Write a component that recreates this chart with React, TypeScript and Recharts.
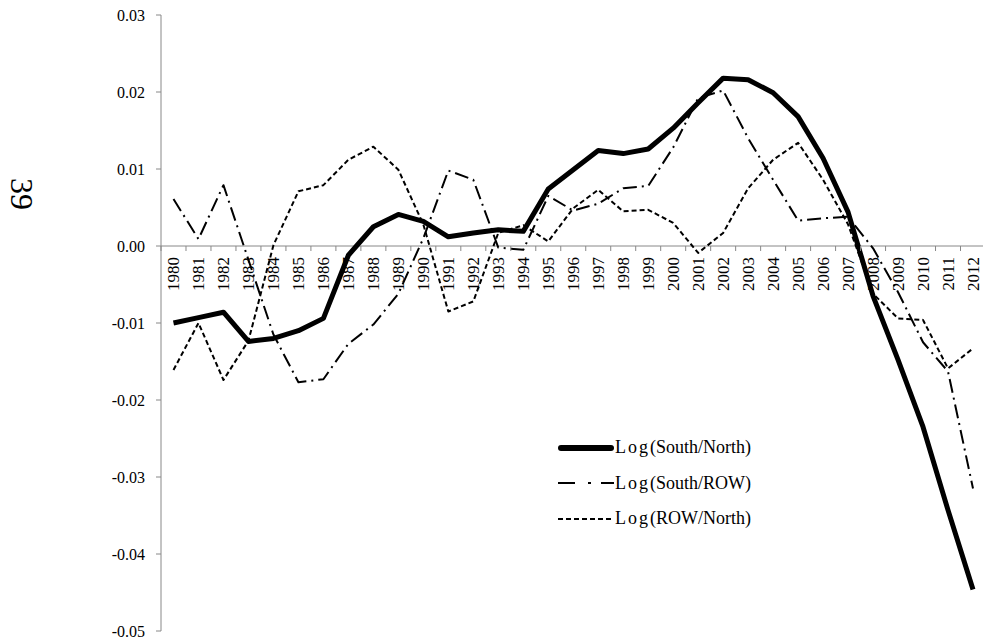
import { Line, LineChart, ReferenceLine, XAxis, YAxis } from "recharts";

const years = [
	"1980", "1981", "1982", "1983", "1984", "1985", "1986", "1987", "1988", "1989", "1990",
	"1991", "1992", "1993", "1994", "1995", "1996", "1997", "1998", "1999", "2000",
	"2001", "2002", "2003", "2004", "2005", "2006", "2007", "2008", "2009", "2010",
	"2011", "2012",
];

const southNorth = [
	-0.01, -0.0093, -0.0086, -0.0124, -0.012, -0.011, -0.0094, -0.0012, 0.0025, 0.0041, 0.0032,
	0.0012, 0.0017, 0.0021, 0.0019, 0.0074, 0.0099, 0.0124, 0.012, 0.0126, 0.0153,
	0.0186, 0.0218, 0.0216, 0.0199, 0.0168, 0.0114, 0.0044, -0.0065, -0.0148, -0.0235,
	-0.0343, -0.0446,
];

const southRow = [
	0.0061, 0.0009, 0.0079, -0.0018, -0.0115, -0.0177, -0.0173, -0.0127, -0.0102, -0.0062, 0.001,
	0.0098, 0.0086, -0.0002, -0.0005, 0.0065, 0.0046, 0.0055, 0.0075, 0.0078, 0.0128,
	0.0192, 0.0202, 0.014, 0.0086, 0.0033, 0.0036, 0.0038, -0.0003, -0.006, -0.0125,
	-0.0163, -0.0315,
];

const rowNorth = [
	-0.0161, -0.01, -0.0174, -0.0123, 0.0001, 0.0071, 0.0079, 0.0112, 0.0129, 0.0099, 0.0028,
	-0.0085, -0.0072, 0.0017, 0.0027, 0.0006, 0.0049, 0.0073, 0.0045, 0.0047, 0.003,
	-0.0009, 0.0017, 0.0075, 0.0112, 0.0134, 0.0086, 0.0028, -0.0062, -0.0094, -0.0096,
	-0.0159, -0.0133,
];

const yTicks = [-0.05, -0.04, -0.03, -0.02, -0.01, 0, 0.01, 0.02, 0.03];

const data = years.map((year, i) => ({
	year,
	sn: southNorth[i],
	sr: southRow[i],
	rn: rowNorth[i],
}));

const SERIES = [
	{ key: "sn", name: "Log(South/North)", width: 5, dash: undefined, legendDash: undefined },
	{ key: "sr", name: "Log(South/ROW)", width: 2, dash: "14 5 2 5", legendDash: "17 13 3 10" },
	{ key: "rn", name: "Log(ROW/North)", width: 2, dash: "5 3", legendDash: "5 3" },
];

const CHART_W = 1000;
const CHART_H = 639;
const TOP = 15;
const BOTTOM = 7;
const X_H = 1;
const LEFT = 161;
const RIGHT = 14.5;
const PLOT_H = CHART_H - TOP - BOTTOM - X_H;
const PLOT_W = CHART_W - LEFT - RIGHT;
const BAND = PLOT_W / years.length;
const Y_MIN = -0.05;
const Y_MAX = 0.03;
const ZERO_Y = TOP + (PLOT_H * Y_MAX) / (Y_MAX - Y_MIN);
const GRAY = "#888888";
const FONT = "'Liberation Serif', 'Times New Roman', serif";

function YearTick(props: any) {
	const { x, payload } = props;
	const ty = ZERO_Y + 11;
	const last = payload.value === years[years.length - 1];
	return (
		<g>
			<line x1={x - BAND / 2} x2={x - BAND / 2} y1={ZERO_Y} y2={ZERO_Y + 5} stroke={GRAY} />
			{last && <line x1={x + BAND / 2} x2={x + BAND / 2} y1={ZERO_Y} y2={ZERO_Y + 5} stroke={GRAY} />}
			<text
				x={x}
				y={ty}
				dy="0.33em"
				textAnchor="end"
				transform={`rotate(-90, ${x}, ${ty})`}
				style={{ fontFamily: FONT }}
				fontSize={17}
				fill="#000"
			>
				{payload.value}
			</text>
		</g>
	);
}

function ValueTick(props: any) {
	const { x, y, payload } = props;
	return (
		<text x={x} y={y} dy="0.35em" textAnchor="end" style={{ fontFamily: FONT }} fontSize={16} fill="#000">
			{Number(payload.value).toFixed(2)}
		</text>
	);
}

function LegendBox() {
	return (
		<div
			style={{
				position: "absolute",
				left: 558,
				top: 430,
				fontFamily: FONT,
				fontSize: 18,
				color: "#000",
			}}
		>
			{SERIES.map((s) => (
				<div key={s.key} style={{ display: "flex", alignItems: "center", height: 35.5 }}>
					<svg width={56} height={10} style={{ marginRight: 1 }}>
						<line
							x1={s.width > 3 ? 3 : 0}
							x2={s.width > 3 ? 53 : 56}
							y1={5}
							y2={5}
							stroke="#000"
							strokeWidth={s.width > 3 ? 6 : 2}
							strokeLinecap={s.width > 3 ? "round" : "butt"}
							strokeDasharray={s.legendDash}
						/>
					</svg>
					<span style={{ whiteSpace: "nowrap" }}>
						<span style={{ letterSpacing: 2 }}>Log</span>
						{s.name.slice(3)}
					</span>
				</div>
			))}
		</div>
	);
}

export default function App() {
	return (
		<div
			style={{
				position: "absolute",
				left: 0,
				top: 0,
				width: 983,
				height: 639,
				overflow: "hidden",
				background: "#fff",
			}}
		>
			<div
				style={{
					position: "absolute",
					left: 0,
					top: 174,
					width: 44,
					height: 40,
					lineHeight: "40px",
					textAlign: "center",
					fontFamily: FONT,
					fontSize: 32,
					transform: "rotate(90deg)",
				}}
			>
				39
			</div>
			<LineChart
				width={CHART_W}
				height={CHART_H}
				data={data}
				margin={{ top: TOP, right: RIGHT, bottom: BOTTOM, left: 0 }}
			>
				<XAxis
					dataKey="year"
					height={X_H}
					axisLine={false}
					tickLine={false}
					interval={0}
					padding={{ left: BAND / 2, right: BAND / 2 }}
					tick={(p: any) => <YearTick {...p} />}
				/>
				<YAxis
					type="number"
					domain={[Y_MIN, Y_MAX]}
					ticks={yTicks}
					interval={0}
					width={LEFT}
					tickSize={5}
					tickMargin={11}
					axisLine={{ stroke: GRAY }}
					tickLine={{ stroke: GRAY }}
					tick={(p: any) => <ValueTick {...p} />}
				/>
				<ReferenceLine y={0} stroke={GRAY} strokeWidth={1} />
				{SERIES.map((s) => (
					<Line
						key={s.key}
						type="linear"
						dataKey={s.key}
						name={s.name}
						stroke="#000"
						strokeWidth={s.width}
						strokeDasharray={s.dash}
						strokeLinejoin="round"
						dot={false}
						activeDot={false}
						isAnimationActive={false}
					/>
				))}
			</LineChart>
			<LegendBox />
		</div>
	);
}
